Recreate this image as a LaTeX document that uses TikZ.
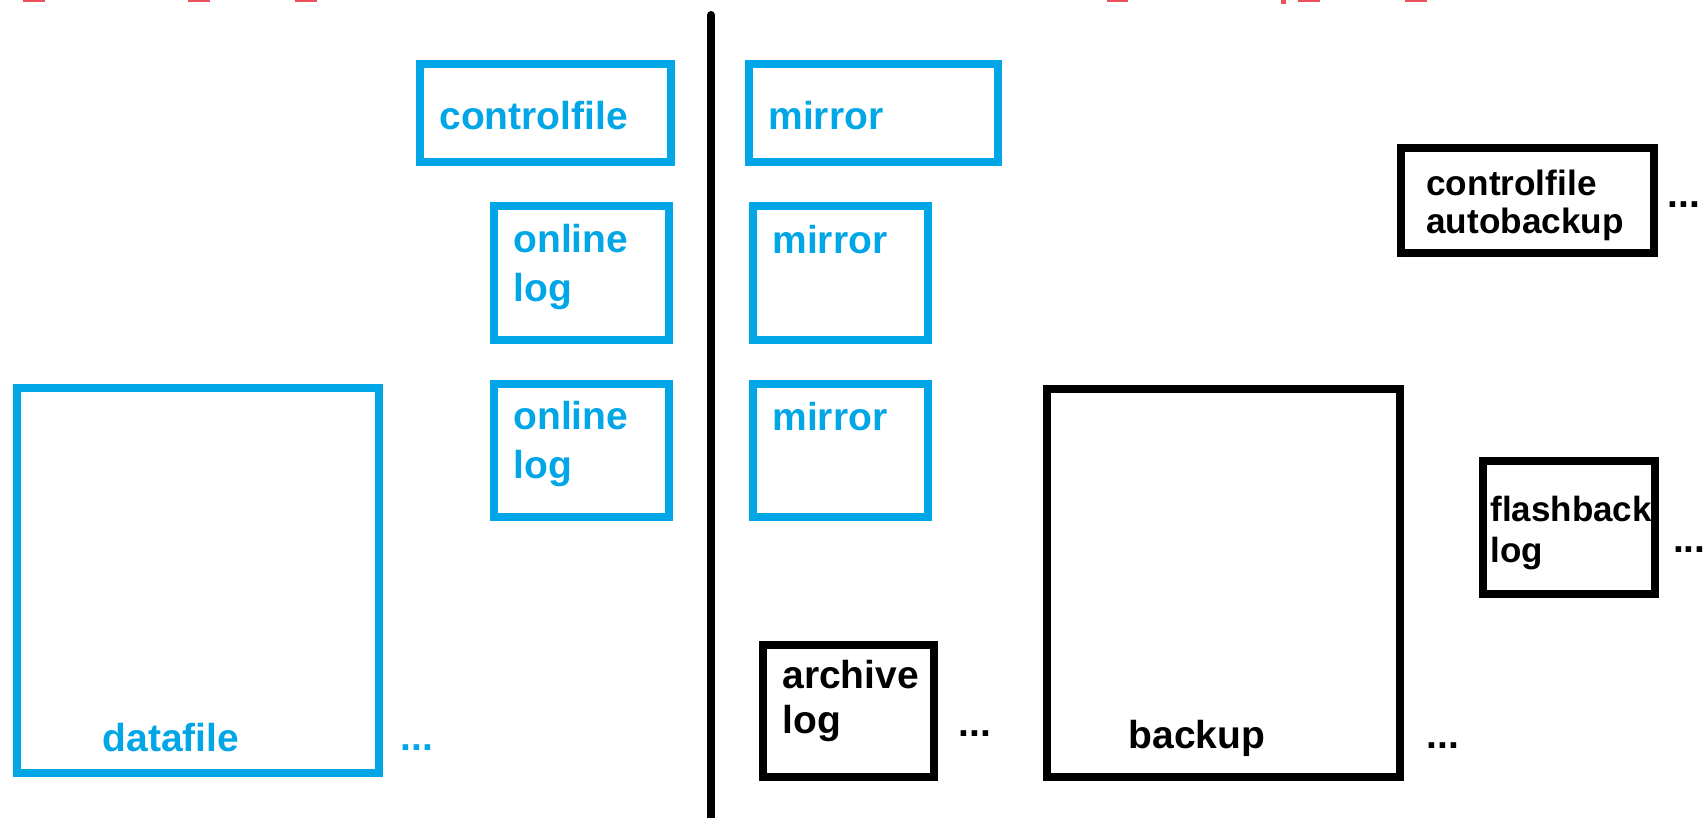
\documentclass[tikz,border=0pt]{standalone}
\usepackage{fontspec}
\setmainfont{Liberation Sans}
\usepackage{tikz}
\usetikzlibrary{calc,positioning}
\definecolor{oblue}{RGB}{0,166,230}
\definecolor{ored}{RGB}{236,80,90}

\begin{document}
\begin{tikzpicture}[x=0.5pt,y=-0.5pt,
  bluebox/.style={rectangle,draw=oblue,line width=4pt,inner sep=0pt},
  blackbox/.style={rectangle,draw=black,line width=4pt,inner sep=0pt},
  bluetxt/.style={text=oblue,font=\bfseries\fontsize{19.5pt}{24.5pt}\selectfont,inner sep=0pt,align=left},
  blacktxt/.style={text=black,font=\bfseries\fontsize{19.5pt}{22.5pt}\selectfont,inner sep=0pt,align=left}]
\useasboundingbox (0,0) rectangle (1706,818);

% Cut-off title at the top
\foreach \xa/\xb in {23/45,188/210,295/317,1107/1128,1298/1320,1405/1427}
  \fill[ored] (\xa,0) rectangle (\xb,2);
\fill[ored] (1281,0) rectangle (1286,4);

% Divider
\coordinate (divtop) at (711,15);
\coordinate (divbot) at (711,818);
\draw[line width=4pt,line cap=round] (divtop) -- (divbot);

% Database side
\node[bluebox,minimum width=125.5pt,minimum height=49pt] (ctl) at (545.5,113) {};
\node[bluebox,minimum width=87.5pt,minimum height=67pt] (onla) at (581.5,273) {};
\node[bluebox,minimum width=87.5pt,minimum height=66.5pt] (onlb) at (581.5,450.5) {};
\node[bluebox,minimum width=181pt,minimum height=192.5pt] (data) at (198,580.5) {};
\node[bluetxt,anchor=west] at ($(ctl.west)+(23,3)$) {controlfile};
\node[bluetxt,anchor=west] at ($(onla.west)+(23,-6)$) {online\\log};
\node[bluetxt,anchor=west] at ($(onlb.west)+(23,-6.5)$) {online\\log};
\node[bluetxt] at ($(data.south)+(-27,-39)$) {datafile};
\node[bluetxt,anchor=base] (datadots) at (417,750) {...};

% Mirrors
\node[bluebox,minimum width=124.5pt,minimum height=49pt] (mira) at (873.5,113) {};
\node[bluebox,minimum width=87.5pt,minimum height=67pt] (mirb) at (840.5,273) {};
\node[bluebox,minimum width=87.5pt,minimum height=66.5pt] (mirc) at (840.5,450.5) {};
\node[bluetxt,anchor=west] at ($(mira.west)+(23,3)$) {mirror};
\node[bluetxt,anchor=west] at ($(mirb.west)+(23,-33)$) {mirror};
\node[bluetxt,anchor=west] at ($(mirc.west)+(23,-33.5)$) {mirror};

% Recovery files
\node[blackbox,minimum width=85.5pt,minimum height=66pt] (arch) at (848.5,711) {};
\node[blackbox,minimum width=176.5pt,minimum height=194pt] (bkp) at (1223.5,583) {};
\node[blackbox,minimum width=126.5pt,minimum height=52.5pt] (cfab) at (1527.5,200.5) {};
\node[blackbox,minimum width=86pt,minimum height=66.5pt] (flb) at (1569,527.5) {};
\node[blacktxt,anchor=west] at ($(arch.west)+(23,-10)$) {archive\\log};
\node[blacktxt] at ($(bkp.south)+(-26.5,-43)$) {backup};
\node[blacktxt,anchor=west,font=\bfseries\fontsize{17.6pt}{19pt}\selectfont] at ($(cfab.west)+(29,4.5)$) {controlfile\\autobackup};
\node[blacktxt,anchor=west,font=\bfseries\fontsize{17.5pt}{20.5pt}\selectfont] at ($(flb.west)+(11,6)$) {flashback\\log};
\node[blacktxt,anchor=base] (archdots) at (975,736) {...};
\node[blacktxt,anchor=base] (bkpdots) at (1443,748) {...};
\node[blacktxt,anchor=base] (cfabdots) at (1684,208) {...};
\node[blacktxt,anchor=base east] (flbdots) at (1706,552) {...};

\end{tikzpicture}
\end{document}
